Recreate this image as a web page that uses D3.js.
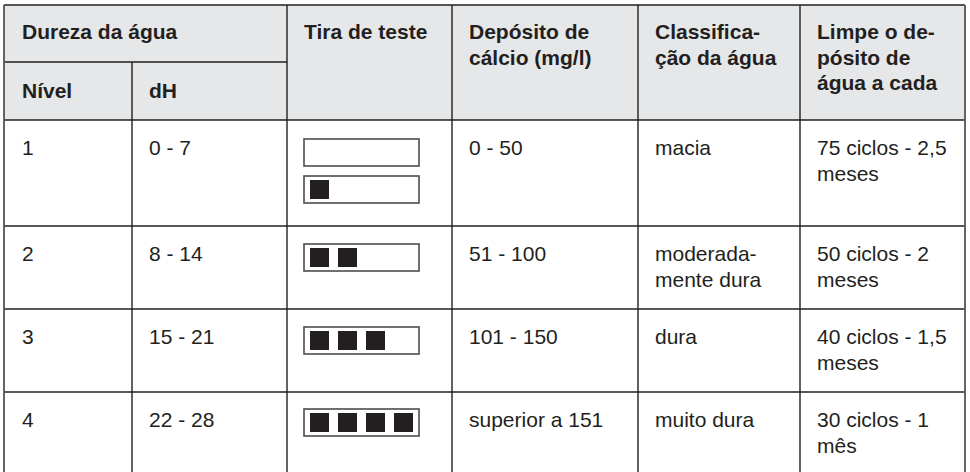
<!DOCTYPE html>
<html>
<head>
<meta charset="utf-8">
<script src="https://cdn.jsdelivr.net/npm/d3@7"></script>
<style>
  html, body { margin: 0; padding: 0; background: #ffffff; }
  svg { display: block; }
  text { font-family: "Liberation Sans", Arial, Helvetica, sans-serif; fill: #231f20; }
</style>
</head>
<body>
<svg id="chart" width="970" height="472"></svg>
<script>
// ---- data ----
const headerTop = ["Dureza da água", "Tira de teste", "Depósito de|cálcio (mg/l)", "Classifica-|ção da água", "Limpe o de-|pósito de|água a cada"];
const headerSub = ["Nível", "dH"];
const levels = ["1", "2", "3", "4"];
const dH = ["0 - 7", "8 - 14", "15 - 21", "22 - 28"];
const stripSquares = [[0, 1], [2], [3], [4]];
const calcium = ["0 - 50", "51 - 100", "101 - 150", "superior a 151"];
const classification = ["macia", "moderada-|mente dura", "dura", "muito dura"];
const cleaning = ["75 ciclos - 2,5|meses", "50 ciclos - 2|meses", "40 ciclos - 1,5|meses", "30 ciclos - 1|mês"];

// ---- layout ----
const svg = d3.select("#chart");
const colEdges = [4, 132, 287, 452, 638, 800, 965];
const x = d3.scaleOrdinal().domain(d3.range(7)).range(colEdges);
const rowEdges = [120, 226, 309, 392, 476];
const y = d3.scaleOrdinal().domain(d3.range(5)).range(rowEdges);
const headTop = 5, headMid = 62;
const padX = 17, fs = 21, lh = 25.5;
const ink = "#231f20";

// header background
svg.append("rect").attr("x", x(0)).attr("y", headTop).attr("width", x(6) - x(0)).attr("height", y(0) - headTop).attr("fill", "#e6e7e8");

function multiText(g, str, tx, ty, bold) {
  const t = g.append("text").attr("x", tx).attr("y", ty).attr("font-size", fs).attr("font-weight", bold ? "bold" : "normal");
  str.split("|").forEach((s, i) => t.append("tspan").attr("x", tx).attr("dy", i === 0 ? 0 : lh).text(s));
}

const gh = svg.append("g");
// header texts
multiText(gh, headerTop[0], x(0) + padX + 1, 39, true);
headerTop.slice(1).forEach((h, i) => multiText(gh, h, x(i + 2) + padX, 39, true));
headerSub.forEach((h, i) => multiText(gh, h, x(i) + padX + (i === 0 ? 1 : 0), 98, true));

// body texts
const body = svg.append("g");
const cols = [levels, dH, null, calcium, classification, cleaning];
cols.forEach((arr, c) => {
  if (!arr) return;
  arr.forEach((v, r) => multiText(body, v, x(c) + padX + (c === 0 ? 1 : 0), y(r) + 35, false));
});

// test strips
const stripW = 115, stripH = 27, sq = 19, pitch = 28;
const sx = d3.scaleLinear().domain([0, 1]).range([0, pitch]);
const stripTops = [[y(0) + 19, y(0) + 56], [y(1) + 18], [y(2) + 18], [y(3) + 17]];
const gs = svg.append("g");
stripSquares.forEach((arr, r) => {
  arr.forEach((n, k) => {
    const top = stripTops[r][k];
    const left = x(2) + 17;
    gs.append("rect").attr("x", left).attr("y", top).attr("width", stripW).attr("height", stripH)
      .attr("fill", "#fff").attr("stroke", "#4d4d4f").attr("stroke-width", 1.6);
    gs.selectAll(null).data(d3.range(n)).join("rect")
      .attr("x", d => left + 6 + sx(d)).attr("y", top + 4).attr("width", sq).attr("height", sq).attr("fill", ink);
  });
});

// grid lines
const gl = svg.append("g").attr("stroke", ink).attr("stroke-width", 1.4).attr("fill", "none");
gl.append("line").attr("x1", x(0)).attr("x2", x(6)).attr("y1", headTop).attr("y2", headTop);
gl.append("line").attr("x1", x(0)).attr("x2", x(2)).attr("y1", headMid).attr("y2", headMid);
rowEdges.slice(0, 4).forEach(v => gl.append("line").attr("x1", x(0)).attr("x2", x(6)).attr("y1", v).attr("y2", v));
colEdges.forEach((cx, i) => {
  const y1 = i === 1 ? headMid : headTop;
  gl.append("line").attr("x1", cx).attr("x2", cx).attr("y1", y1).attr("y2", 472)
    .attr("stroke", (i === 0 || i === 6) ? "#555" : ink).attr("stroke-width", (i === 0 || i === 6) ? 1.8 : 1.4);
});
</script>
</body>
</html>
